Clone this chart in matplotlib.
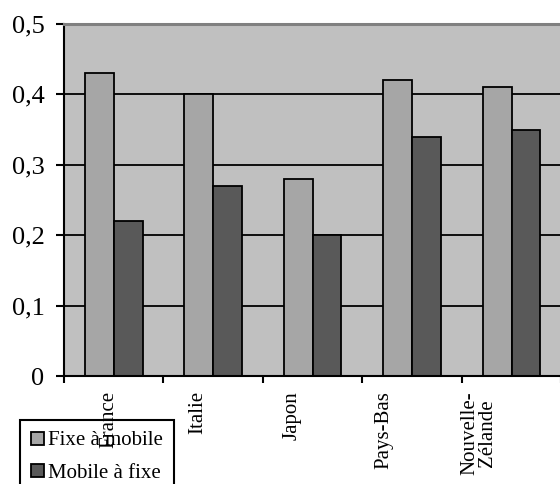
import numpy as np
import matplotlib.pyplot as plt
from matplotlib.transforms import ScaledTranslation

pays = ["France", "Italie", "Japon", "Pays-Bas", "Nouvelle-\nZélande"]
fixe_mobile = [0.43, 0.40, 0.28, 0.42, 0.41]
mobile_fixe = [0.22, 0.27, 0.20, 0.34, 0.35]
y_ticks = [0, 0.1, 0.2, 0.3, 0.4, 0.5]
y_labels = ["0", "0,1", "0,2", "0,3", "0,4", "0,5"]

plt.rcParams["font.family"] = ["Liberation Serif", "DejaVu Serif"]

fig = plt.figure(figsize=(5.6, 4.84), dpi=100)
ax = fig.add_axes([0.1143, 0.2231, 0.888, 0.7273])
ax.set_facecolor("#c0c0c0")
ax.set_axisbelow(True)

x = np.arange(len(pays))
w = 0.29
ax.bar(x - w / 2, fixe_mobile, w, color="#a6a6a6", edgecolor="black",
       linewidth=1.3, label="Fixe à mobile")
ax.bar(x + w / 2, mobile_fixe, w, color="#595959", edgecolor="black",
       linewidth=1.3, label="Mobile à fixe")

ax.set_xlim(-0.5, len(pays) - 0.5)
ax.set_ylim(0, 0.5)
ax.set_yticks(y_ticks)
ax.set_yticklabels(y_labels, fontsize=19)
ax.yaxis.grid(True, color="black", linewidth=1.3)
ax.tick_params(axis="y", direction="out", length=6, width=1.5, pad=8)

# category labels in the middle, tick marks on the boundaries
ax.set_xticks(x)
ax.set_xticklabels(pays, rotation=90, fontsize=15, va="top", ha="center",
                   linespacing=0.95)
ax.set_xticks(np.arange(len(pays) + 1) - 0.5, minor=True)
ax.tick_params(axis="x", which="major", length=0, pad=11)
ax.tick_params(axis="x", which="minor", direction="out", length=5, width=1.5)
shift_px = [-5, -15, -21, -28, -33]
for lab, dx in zip(ax.get_xticklabels(), shift_px):
    lab.set_transform(lab.get_transform()
                      + ScaledTranslation(dx / 100, 0, fig.dpi_scale_trans))

ax.spines["right"].set_visible(False)
ax.spines["top"].set_color("#808080")
ax.spines["top"].set_linewidth(2.2)
ax.spines["left"].set_linewidth(1.5)
ax.spines["bottom"].set_linewidth(1.5)

leg = ax.legend(loc="upper left", bbox_to_anchor=(20 / 560, 1 - 420 / 484),
                bbox_transform=fig.transFigure, fontsize=15, frameon=True,
                fancybox=False, edgecolor="black", framealpha=1,
                handlelength=0.6, handleheight=0.6, handletextpad=0.2,
                borderpad=0.55, labelspacing=0.65, borderaxespad=0)
leg.get_frame().set_linewidth(1.5)
leg.set_zorder(0.4)

fig.savefig("out.png", dpi=100)
